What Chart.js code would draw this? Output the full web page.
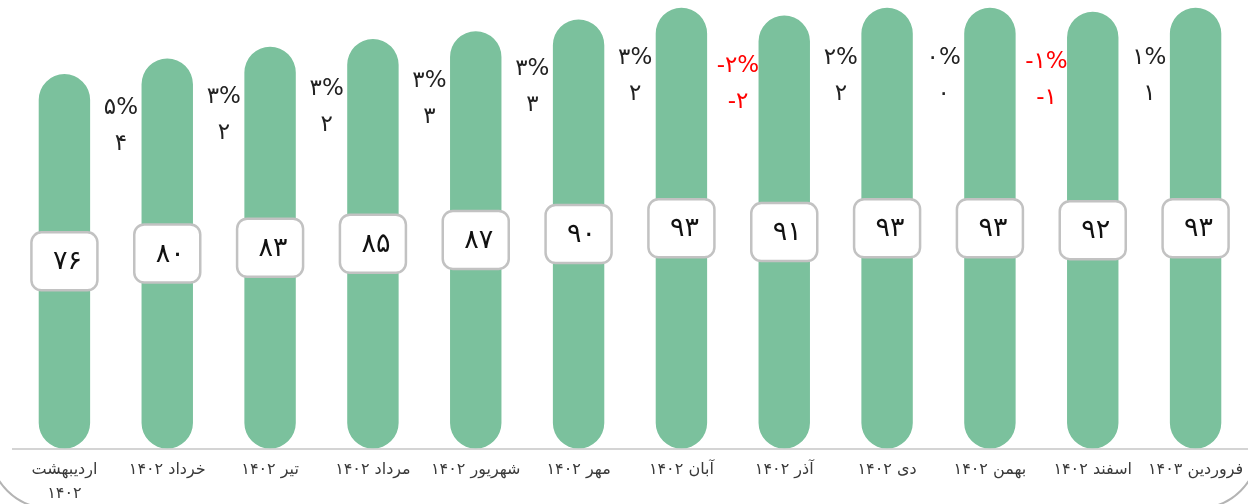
<!DOCTYPE html>
<html>
<head>
<meta charset="utf-8">
<script src="https://cdn.jsdelivr.net/npm/chart.js@4"></script>
<style>
  html, body { margin: 0; padding: 0; background: #fff; overflow: hidden; }
  #wrap { position: relative; width: 1248px; height: 504px; overflow: hidden; }
  #card { position: absolute; left: -11px; right: -11px; top: -80px; bottom: -5px;
          border: 2px solid #b4b4b4; border-radius: 60px; box-sizing: border-box; }
  #c { position: absolute; left: 0; top: 0; }
</style>
</head>
<body>
<div id="wrap">
  <div id="card"></div>
  <canvas id="c" width="1248" height="504"></canvas>
</div>
<script>
const categories = [
  ['اردیبهشت', '۱۴۰۲'], 'خرداد ۱۴۰۲', 'تیر ۱۴۰۲', 'مرداد ۱۴۰۲', 'شهریور ۱۴۰۲', 'مهر ۱۴۰۲',
  'آبان ۱۴۰۲', 'آذر ۱۴۰۲', 'دی ۱۴۰۲', 'بهمن ۱۴۰۲', 'اسفند ۱۴۰۲', 'فروردین ۱۴۰۳'
];
const values = [76, 80, 83, 85, 87, 90, 93, 91, 93, 93, 92, 93];
const changePct = [null, 5, 3, 3, 3, 3, 3, -2, 2, 0, -1, 1];
const changeAbs = [null, 4, 2, 2, 3, 3, 2, -2, 2, 0, -1, 1];
const axisMin = -20;
const axisMax = 95;

const FONT = '"DejaVu Sans", "Noto Sans", sans-serif';
const faDigits = '۰۱۲۳۴۵۶۷۸۹';
function toFa(n) { return String(n).replace(/[0-9]/g, d => faDigits[+d]); }

const labelPlugin = {
  id: 'labels',
  afterDatasetsDraw(chart) {
    const ctx = chart.ctx;
    const meta = chart.getDatasetMeta(0);
    const xs = chart.scales.x;
    const spacing = xs.getPixelForValue(1) - xs.getPixelForValue(0);
    ctx.save();
    ctx.direction = 'ltr';
    meta.data.forEach((bar, i) => {
      const cy = (bar.y + bar.base) / 2;
      const w = 66, h = 58;
      ctx.beginPath();
      ctx.roundRect(bar.x - w / 2, cy - h / 2, w, h, 10);
      ctx.fillStyle = '#ffffff';
      ctx.fill();
      ctx.lineWidth = 2.5;
      ctx.strokeStyle = '#c2c2c2';
      ctx.stroke();
      ctx.fillStyle = '#111';
      ctx.font = '27px ' + FONT;
      ctx.textAlign = 'center';
      ctx.textBaseline = 'middle';
      ctx.fillText(toFa(values[i]), bar.x + 3, cy + 1);

      if (changePct[i] !== null) {
        const lx = bar.x - spacing * 0.45;
        const ly = bar.y + 68;
        const neg = changePct[i] < 0;
        ctx.fillStyle = neg ? '#ff0000' : '#222';
        ctx.font = '23px ' + FONT;
        const p = (neg ? '-' : '') + toFa(Math.abs(changePct[i])) + '%';
        const a = (neg ? '-' : '') + toFa(Math.abs(changeAbs[i]));
        ctx.fillText(p, lx, ly - 18);
        ctx.fillText(a, lx, ly + 18);
      }
    });
    ctx.restore();
  }
};

new Chart(document.getElementById('c'), {
  type: 'bar',
  data: {
    labels: categories,
    datasets: [{
      data: values,
      base: axisMin,
      backgroundColor: '#7bc19d',
      borderRadius: 100,
      borderSkipped: false,
      barPercentage: 0.5,
      categoryPercentage: 1.0
    }]
  },
  options: {
    responsive: false,
    animation: false,
    layout: { padding: { left: 13, right: 1, top: 0, bottom: -11 } },
    plugins: { legend: { display: false }, tooltip: { enabled: false } },
    scales: {
      y: { display: false, min: axisMin, max: axisMax },
      x: {
        afterFit(scale) { scale.paddingLeft = 0; scale.paddingRight = 0; },
        grid: { display: false, drawTicks: false },
        border: { display: true, color: '#d4d4d4', width: 2 },
        ticks: {
          color: '#3a3a3a',
          font: { family: FONT, size: 16, lineHeight: 1.45 },
          padding: 10,
          autoSkip: false,
          maxRotation: 0,
          minRotation: 0
        }
      }
    }
  },
  plugins: [labelPlugin]
});
</script>
</body>
</html>
